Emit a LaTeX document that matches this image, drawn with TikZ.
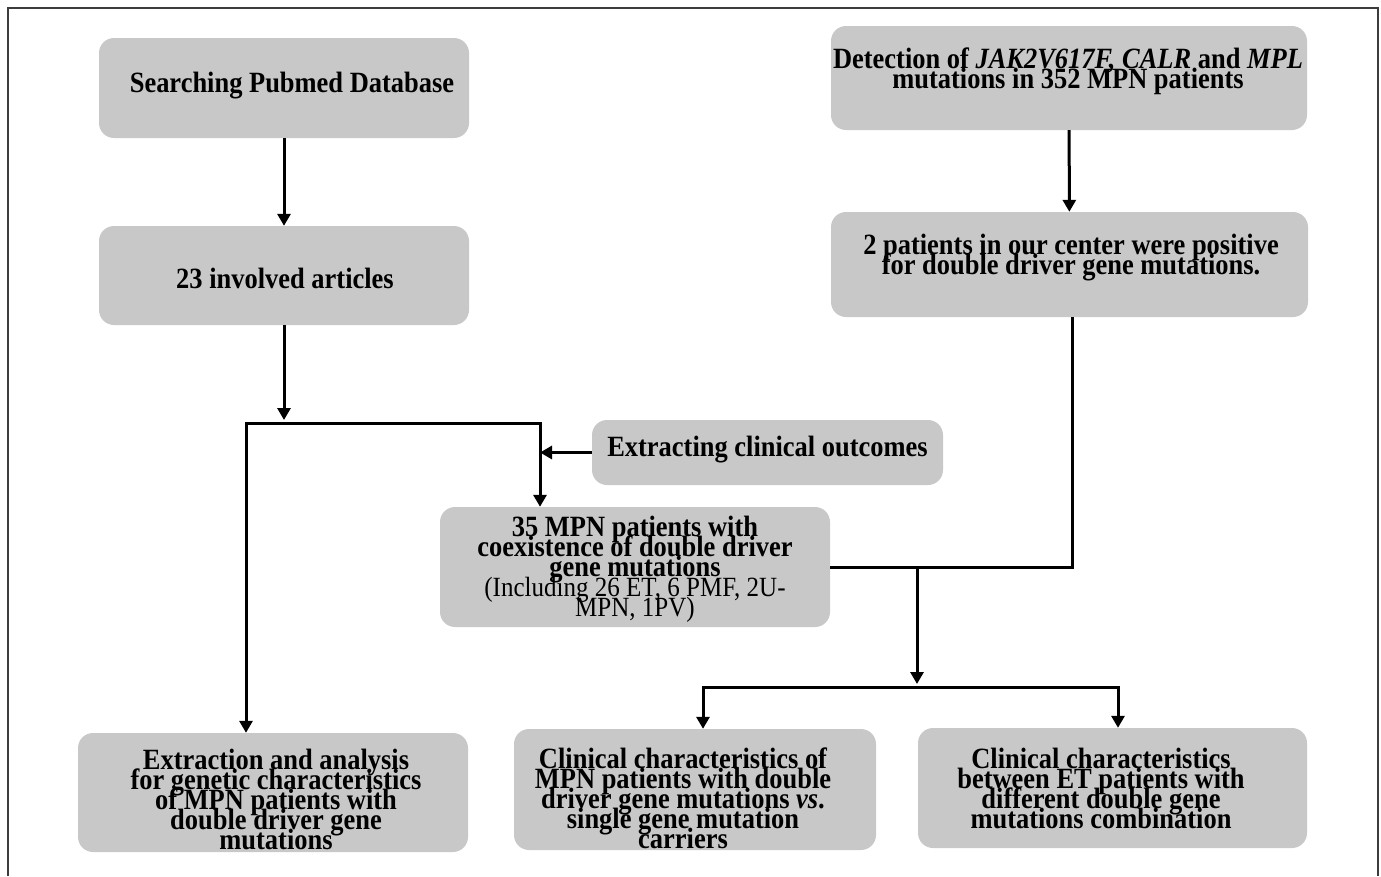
\documentclass[tikz,border=0pt]{standalone}
\usepackage{fontspec}
\setmainfont{Liberation Serif}[FakeStretch=0.9]
\usetikzlibrary{arrows.meta}
\definecolor{boxgray}{RGB}{200,200,200}
\definecolor{framegray}{RGB}{60,60,60}
\newcommand\mytightlines{\lineskiplimit=-100pt\relax\lineskip=0pt\relax}
\begin{document}
\begin{tikzpicture}[x=1pt,y=-1pt,
 box/.style={rectangle, rounded corners=15pt, fill=boxgray, inner sep=0pt},
 txt/.style={align=center, inner sep=0pt, font=\fontsize{29.4}{20}\selectfont\bfseries\mytightlines},
 conn/.style={line width=3pt, black},
 arr/.style={conn, -{Triangle[length=12pt,width=13pt]}}]
\useasboundingbox (0,0) rectangle (1381,876);
\draw[framegray, line width=2pt] (8,876) -- (8,8) -- (1378,8) -- (1378,876);

% boxes
\node[box, minimum width=370pt, minimum height=100pt] (search) at (284,88) {};
\node[txt] (searchT) at (292,86) {Searching Pubmed Database};

\node[box, minimum width=370pt, minimum height=99pt] (articles) at (284,275.5) {};
\node[txt] (articlesT) at (285,278) {23 involved articles};

\node[box, minimum width=476pt, minimum height=104pt] (detect) at (1069,78) {};
\node[txt] (detectT) at (1068,71) {Detection of \textit{JAK2V617F, CALR} and \textit{MPL}\\mutations in 352 MPN patients};

\node[box, minimum width=477pt, minimum height=105pt] (two) at (1069.5,264.5) {};
\node[txt] (twoT) at (1071,258) {2 patients in our center were positive\\for double driver gene mutations.};

\node[box, minimum width=351pt, minimum height=65pt] (outc) at (767.5,452.5) {};
\node[txt] (outcT) at (767.5,450) {Extracting clinical outcomes};

\node[box, minimum width=390pt, minimum height=120pt] (mpn) at (635,567) {};
\node[txt] (mpnT) at (635,569) {35 MPN patients with\\coexistence of double driver\\gene mutations\\{\mdseries\fontsize{27.8}{20}\selectfont (Including 26 ET, 6 PMF, 2U-}\\{\mdseries\fontsize{27.8}{20}\selectfont MPN, 1PV)}};

\node[box, minimum width=390pt, minimum height=119pt] (genet) at (273,792.5) {};
\node[txt] (genetT) at (276,799) {Extraction and analysis\\for genetic characteristics\\of MPN patients with\\double driver gene\\mutations};

\node[box, minimum width=362pt, minimum height=121pt] (clin1) at (695,789.5) {};
\node[txt] (clin1T) at (683,798) {Clinical characteristics of\\MPN patients with double\\driver gene mutations \textit{vs}.\\single gene mutation\\carriers};

\node[box, minimum width=389pt, minimum height=120pt] (clin2) at (1112.5,788) {};
\node[txt] (clin2T) at (1101,788) {Clinical characteristics\\between ET patients with\\different double gene\\mutations combination};

% junction points
\coordinate (jtop) at (284,420);
\coordinate (hl) at (246,423);
\coordinate (hr) at (540,423);
\coordinate (k) at (1072,568);
\coordinate (s) at (917,568);
\coordinate (stop) at (917,684);
\coordinate (bl) at (703,687);
\coordinate (br) at (1118,687);

% connectors
\draw[arr] (search) -- (articles);
\draw[arr] (articles.south) -- (jtop);
\draw[arr] (hr) -- (hl) -- (genet.north -| hl);
\draw[arr] (hl) -- (hr) -- (mpn.north -| hr);
\draw[arr] (outc.west) -- (outc.west -| hr);
\draw[arr] (detect) -- (two);
\draw[conn] (two.south -| k) -- (k |- mpn.east) -- (mpn.east);
\draw[arr] (s) -- (stop);
\draw[arr] (br) -- (bl) -- (clin1.north -| bl);
\draw[arr] (bl) -- (br) -- (clin2.north -| br);
\end{tikzpicture}
\end{document}
